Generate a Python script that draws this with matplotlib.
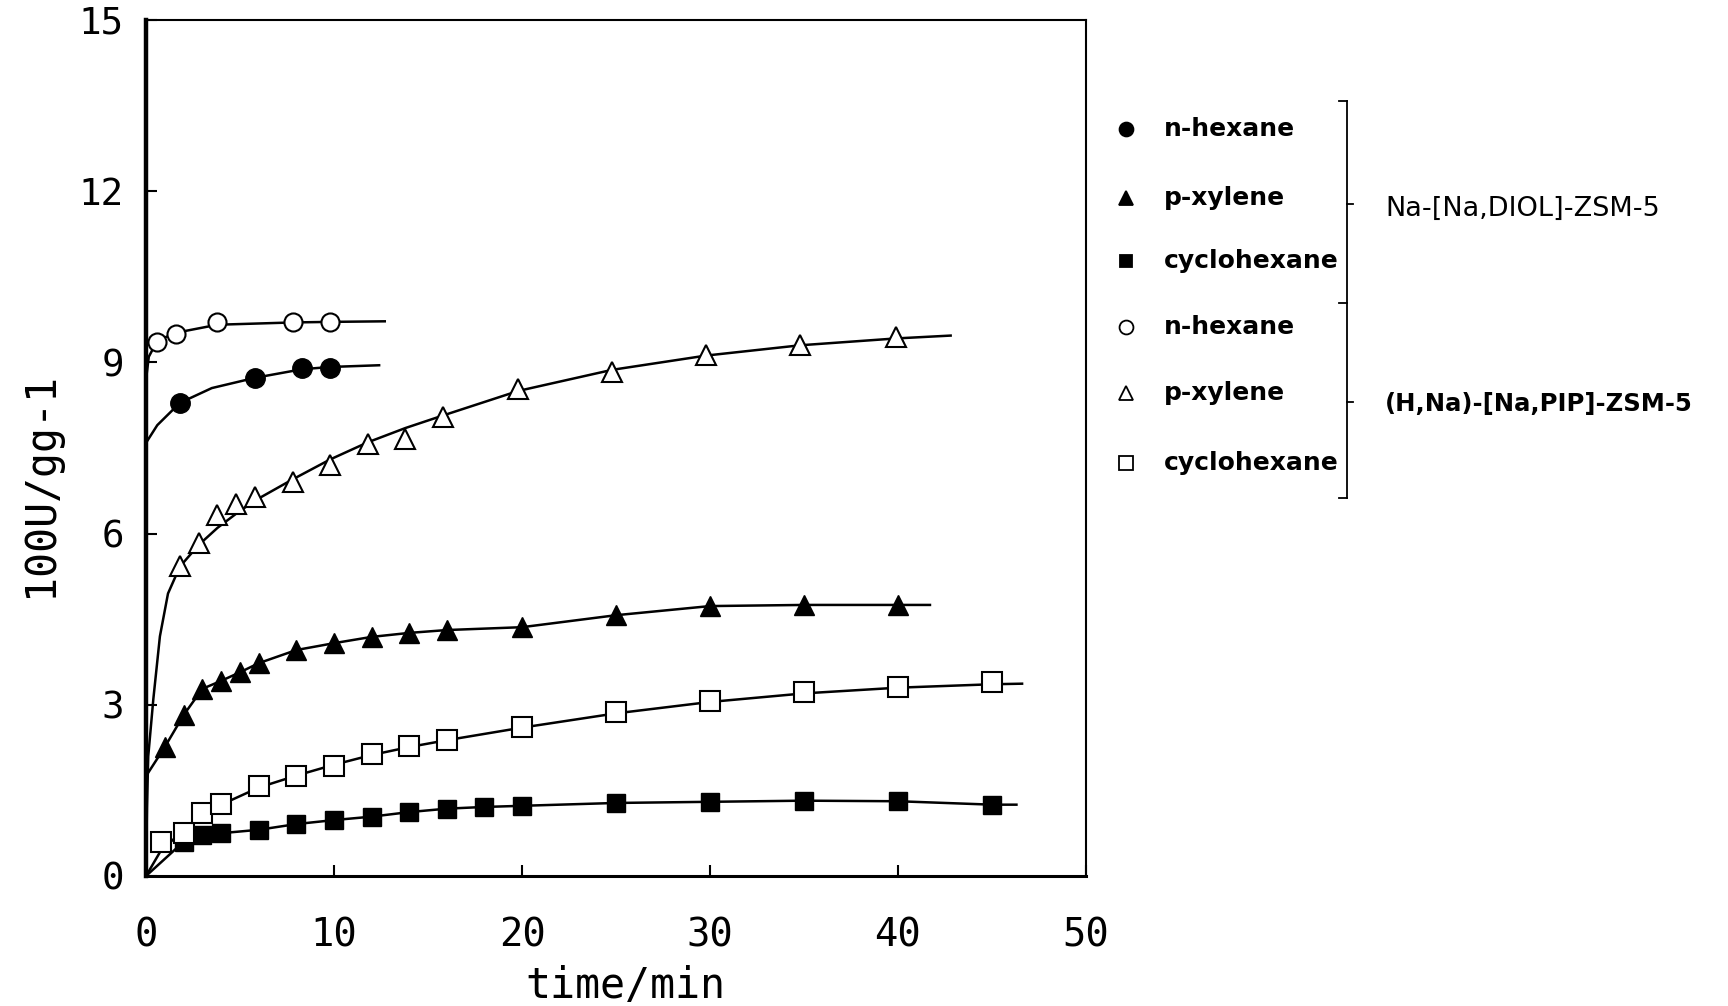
import matplotlib
matplotlib.use('Agg')
import matplotlib.pyplot as plt
from matplotlib.lines import Line2D

# uptake (100U / g g-1) vs time (min)
# Na-[Na,DIOL]-ZSM-5
hex_diol_t = [1.8, 5.8, 8.3, 9.8]
hex_diol_u = [8.29, 8.73, 8.90, 8.90]
hex_diol_curve_t = [0, 0.6, 1.8, 3.5, 5.8, 8.3, 9.8, 12.4]
hex_diol_curve_u = [7.59, 7.9, 8.29, 8.55, 8.73, 8.88, 8.92, 8.95]

xyl_diol_t = [1, 2, 3, 4, 5, 6, 8, 10, 12, 14, 16, 20, 25, 30, 35, 40]
xyl_diol_u = [2.26, 2.82, 3.28, 3.42, 3.57, 3.73, 3.96, 4.08, 4.19, 4.26, 4.31,
              4.36, 4.57, 4.73, 4.75, 4.75]
xyl_diol_start = (0, 1.75)
xyl_diol_end = (41.7, 4.75)

cyc_diol_t = [2, 3, 4, 6, 8, 10, 12, 14, 16, 18, 20, 25, 30, 35, 40, 45]
cyc_diol_u = [0.60, 0.72, 0.75, 0.81, 0.91, 0.98, 1.04, 1.12, 1.18, 1.21, 1.23,
              1.28, 1.30, 1.32, 1.31, 1.25]
cyc_diol_start = (0, 0)
cyc_diol_end = (46.3, 1.25)

# (H,Na)-[Na,PIP]-ZSM-5
hex_pip_t = [0.6, 1.6, 3.8, 7.8, 9.8]
hex_pip_u = [9.35, 9.5, 9.7, 9.7, 9.7]
hex_pip_curve_t = [0, 0.15, 0.6, 1.6, 3.8, 7.8, 9.8, 12.7]
hex_pip_curve_u = [8.7, 9.1, 9.38, 9.52, 9.66, 9.7, 9.71, 9.72]

xyl_pip_t = [1.8, 2.8, 3.8, 4.8, 5.8, 7.8, 9.8, 11.8, 13.8, 15.8, 19.8, 24.8, 29.8, 34.8, 39.9]
xyl_pip_u = [5.44, 5.83, 6.33, 6.51, 6.64, 6.91, 7.20, 7.57, 7.66, 8.05, 8.53,
             8.84, 9.13, 9.30, 9.44]
xyl_pip_curve_t = [0, 0.05, 0.12, 0.39, 0.74, 1.17, 1.8, 2.8, 3.8, 4.8, 5.8, 7.8,
                   9.8, 11.8, 13.8, 15.8, 19.8, 24.8, 29.8, 34.8, 39.9, 42.8]
xyl_pip_curve_u = [0, 1.2, 2.1, 3.1, 4.2, 4.95, 5.42, 5.8, 6.1, 6.35, 6.58, 6.95,
                   7.3, 7.6, 7.85, 8.07, 8.5, 8.87, 9.12, 9.3, 9.42, 9.47]

cyc_pip_t = [0.8, 2, 3, 4, 6, 8, 10, 12, 14, 16, 20, 25, 30, 35, 40, 45]
cyc_pip_u = [0.60, 0.75, 1.10, 1.26, 1.58, 1.75, 1.93, 2.14, 2.28, 2.38, 2.61,
             2.87, 3.07, 3.22, 3.32, 3.40]
cyc_pip_curve_t = [0, 0.8, 2, 3, 4, 6, 8, 10, 12, 14, 16, 20, 25, 30, 35, 40, 45, 46.6]
cyc_pip_curve_u = [0, 0.45, 0.8, 1.05, 1.25, 1.55, 1.76, 1.95, 2.12, 2.26, 2.38,
                   2.6, 2.85, 3.05, 3.2, 3.3, 3.36, 3.37]

legend_names = ['n-hexane', 'p-xylene', 'cyclohexane',
                'n-hexane', 'p-xylene', 'cyclohexane']
group_names = ['Na-[Na,DIOL]-ZSM-5', '(H,Na)-[Na,PIP]-ZSM-5']

W, H = 1728, 1006
fig = plt.figure(figsize=(W / 100, H / 100), dpi=100)
ax = fig.add_axes([146 / W, 1 - 876 / H, 940 / W, 856 / H])

lw = 1.8
k = 'black'

# fitted curves
ax.plot(hex_diol_curve_t, hex_diol_curve_u, color=k, lw=lw)
ax.plot([xyl_diol_start[0]] + xyl_diol_t + [xyl_diol_end[0]],
        [xyl_diol_start[1]] + xyl_diol_u + [xyl_diol_end[1]], color=k, lw=lw)
ax.plot([cyc_diol_start[0]] + cyc_diol_t + [cyc_diol_end[0]],
        [cyc_diol_start[1]] + cyc_diol_u + [cyc_diol_end[1]], color=k, lw=lw)
ax.plot(hex_pip_curve_t, hex_pip_curve_u, color=k, lw=lw)
ax.plot(xyl_pip_curve_t, xyl_pip_curve_u, color=k, lw=lw)
ax.plot(cyc_pip_curve_t, cyc_pip_curve_u, color=k, lw=lw)

# markers
ax.plot(hex_diol_t, hex_diol_u, 'o', ms=14, color=k, ls='none')
ax.plot(xyl_diol_t, xyl_diol_u, '^', ms=14, color=k, ls='none')
ax.plot(cyc_diol_t, cyc_diol_u, 's', ms=13, color=k, ls='none')
ax.plot(hex_pip_t, hex_pip_u, 'o', ms=13, mfc='white', mec=k, mew=1.5, ls='none')
ax.plot(xyl_pip_t, xyl_pip_u, '^', ms=14, mfc='white', mec=k, mew=1.5, ls='none')
ax.plot(cyc_pip_t, cyc_pip_u, 's', ms=14, mfc='white', mec=k, mew=1.5, ls='none')

ax.set_xlim(0, 50)
ax.set_ylim(0, 15)
ax.set_xticks(range(0, 51, 10))
ax.set_yticks(range(0, 16, 3))
mono = 'DejaVu Sans Mono'
ax.set_xticklabels([str(v) for v in range(0, 51, 10)], family=mono, fontsize=28)
ax.set_yticklabels([str(v) for v in range(0, 16, 3)], family=mono, fontsize=27)
ax.tick_params(axis='x', direction='in', length=8, width=1.5, pad=29)
ax.tick_params(axis='y', direction='in', length=8, width=1.5, pad=16)
ax.set_xlabel('time/min', family=mono, fontsize=30, va='center')
ax.xaxis.set_label_coords(0.51, -0.128)
ax.set_ylabel('100U/gg-1', family=mono, fontsize=30)
ax.yaxis.set_label_coords(-0.09, 0.457)
ax.spines['left'].set_linewidth(3.2)
ax.spines['bottom'].set_linewidth(2.2)
ax.spines['top'].set_linewidth(1.5)
ax.spines['right'].set_linewidth(1.5)

# legend drawn in pixel coords
lax = fig.add_axes([0, 0, 1, 1])
lax.set_xlim(0, W)
lax.set_ylim(H, 0)
lax.axis('off')

rows = [129, 198, 261, 327, 393, 463]
styles = [('o', k, 10), ('^', k, 10), ('s', k, 9),
          ('o', 'white', 10), ('^', 'white', 10), ('s', 'white', 10)]
lfont = 'DejaVu Sans'
for yy, name, (m, fc, ms) in zip(rows, legend_names, styles):
    lax.add_line(Line2D([1126], [yy], marker=m, ms=ms, mfc=fc, mec=k, mew=1.3, ls='none'))
    lax.text(1164, yy, name, family=lfont, fontsize=18, weight='bold', va='center', ha='left')

bx = 1347
lax.plot([bx, bx], [101, 498], color=k, lw=1.3)
for yy, d in [(101, -8), (204, 6), (303, -8), (402, 6), (498, -8)]:
    lax.plot([bx, bx + d], [yy, yy], color=k, lw=1.3)
lax.text(1385, 209, group_names[0], family=lfont, fontsize=19.5, va='center', ha='left')
lax.text(1385, 404, group_names[1], family=lfont, fontsize=17.5, weight='bold', va='center', ha='left')

fig.savefig('out.png', dpi=100)
